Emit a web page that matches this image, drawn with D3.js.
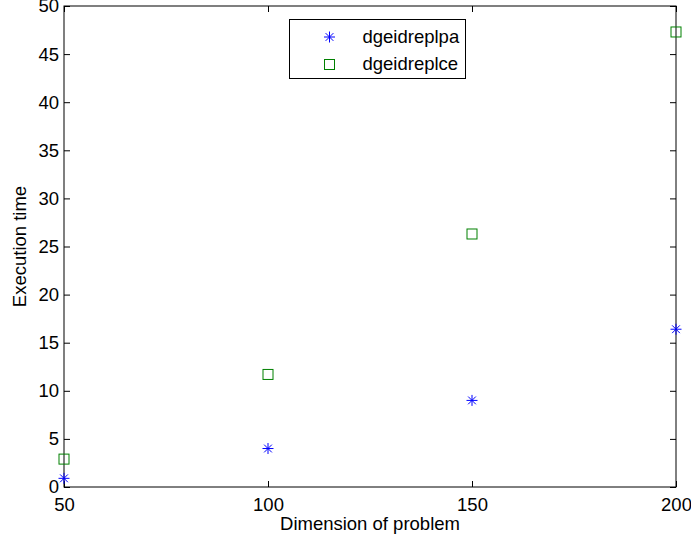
<!DOCTYPE html>
<html>
<head>
<meta charset="utf-8">
<script src="https://cdn.jsdelivr.net/npm/d3@7"></script>
<style>
  body { margin: 0; background: #fff; }
  text { font-family: "Liberation Sans", Arial, sans-serif; fill: #000; }
</style>
</head>
<body>
<div id="chart"></div>
<script>
var dims = [50, 100, 150, 200];
var lpa = [0.9, 4.0, 9.0, 16.4];
var lce = [2.9, 11.7, 26.3, 47.3];
var names = ["dgeidreplpa", "dgeidreplce"];
var xTicks = [50, 100, 150, 200];
var yTicks = [0, 5, 10, 15, 20, 25, 30, 35, 40, 45, 50];

drawChart();

function drawChart() {
  var W = 691, H = 544, fs = "18.5px";
  var margin = {top: 6, right: 15, bottom: 57, left: 64},
      width = W - margin.left - margin.right,
      height = H - margin.top - margin.bottom;

  var svg = d3.select("#chart").append("svg")
      .attr("width", W)
      .attr("height", H);

  var g = svg.append("g")
      .attr("transform", "translate(" + margin.left + "," + margin.top + ")");

  var x = d3.scaleLinear().domain([50, 200]).range([0, width]);
  var y = d3.scaleLinear().domain([0, 50]).range([height, 0]);

  // matlab style: ticks point inward, on all four sides
  var tl = 6;
  g.append("g").attr("transform", "translate(0," + height + ")")
    .call(d3.axisBottom(x).tickValues(xTicks).tickSize(-tl).tickPadding(11).tickFormat(d3.format("d")))
    .call(styleAxis);
  g.append("g")
    .call(d3.axisTop(x).tickValues(xTicks).tickSize(-tl).tickFormat(""))
    .call(styleAxis);
  g.append("g")
    .call(d3.axisLeft(y).tickValues(yTicks).tickSize(-tl).tickPadding(5).tickFormat(d3.format("d")))
    .call(styleAxis);
  g.append("g").attr("transform", "translate(" + width + ",0)")
    .call(d3.axisRight(y).tickValues(yTicks).tickSize(-tl).tickFormat(""))
    .call(styleAxis);

  g.append("rect")
    .attr("width", width).attr("height", height)
    .attr("fill", "none").attr("stroke", "#000").attr("stroke-width", 1);

  // axis titles
  svg.append("text")
    .attr("x", margin.left + width / 2).attr("y", 530)
    .attr("text-anchor", "middle").style("font-size", fs)
    .text("Dimension of problem");
  svg.append("text")
    .attr("transform", "translate(26," + (margin.top + height / 2) + ") rotate(-90)")
    .attr("text-anchor", "middle").style("font-size", fs)
    .text("Execution time");

  var plot = g.append("g");

  // star markers
  plot.selectAll(".star").data(dims.map(function(d, i) { return [d, lpa[i]]; }))
    .enter().append("path")
    .attr("class", "star")
    .attr("transform", function(d) { return "translate(" + x(d[0]) + "," + y(d[1]) + ")"; })
    .attr("d", starPath(5.5))
    .attr("stroke", "#0000ff").attr("stroke-width", 1).attr("fill", "none");

  // square markers
  plot.selectAll(".sq").data(dims.map(function(d, i) { return [d, lce[i]]; }))
    .enter().append("rect")
    .attr("class", "sq")
    .attr("x", function(d) { return x(d[0]) - 5; })
    .attr("y", function(d) { return y(d[1]) - 5; })
    .attr("width", 10).attr("height", 10)
    .attr("stroke", "#008000").attr("stroke-width", 1).attr("fill", "none");

  // legend
  var leg = svg.append("g").attr("transform", "translate(289.5,19.5)");
  leg.append("rect")
    .attr("width", 176).attr("height", 59)
    .attr("fill", "#fff").attr("stroke", "#000");
  leg.append("path")
    .attr("transform", "translate(40,17.5)")
    .attr("d", starPath(5.5))
    .attr("stroke", "#0000ff").attr("fill", "none");
  leg.append("rect")
    .attr("x", 35).attr("y", 40).attr("width", 10).attr("height", 10)
    .attr("stroke", "#008000").attr("fill", "none");
  leg.selectAll(".lt").data(names).enter().append("text")
    .attr("class", "lt")
    .attr("x", 73).attr("y", function(d, i) { return 23.5 + i * 27; })
    .style("font-size", fs)
    .text(function(d) { return d; });
}

function styleAxis(sel) {
  sel.select(".domain").remove();
  sel.selectAll(".tick line").attr("stroke", "#000").attr("stroke-width", 1);
  sel.selectAll(".tick text").style("font-size", "18.5px")
    .style("font-family", "Liberation Sans, Arial, sans-serif").attr("fill", "#000");
}

function starPath(r) {
  var d = "M" + (-r) + ",0L" + r + ",0M0," + (-r) + "L0," + r;
  var k = r * 0.7071;
  d += "M" + (-k) + "," + (-k) + "L" + k + "," + k + "M" + (-k) + "," + k + "L" + k + "," + (-k);
  return d;
}
</script>
</body>
</html>
